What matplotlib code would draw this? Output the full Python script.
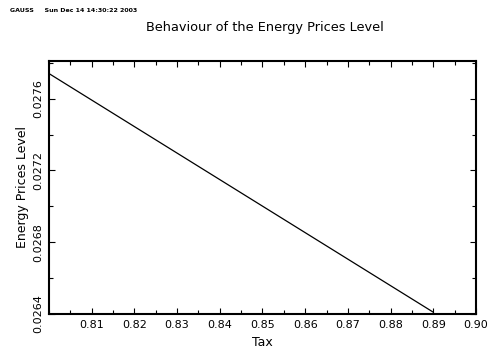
import matplotlib
matplotlib.use("Agg")
import matplotlib.pyplot as plt
from matplotlib.ticker import MultipleLocator

tax = [0.80, 0.89]
energy_prices = [0.02774, 0.02641]
xtick_vals = [0.81, 0.82, 0.83, 0.84, 0.85, 0.86, 0.87, 0.88, 0.89, 0.90]
ytick_vals = [0.0264, 0.0268, 0.0272, 0.0276]

plt.rcParams['font.family'] = ['DejaVu Sans']
fig = plt.figure(figsize=(4.88, 3.56), dpi=100)
W, H = 488, 356
left, right, top, bottom = 49, 476, 61, 314
ax = fig.add_axes([left / W, 1 - bottom / H, (right - left) / W, (bottom - top) / H])

ax.plot(tax, energy_prices, color='black', linewidth=0.9)
ax.set_xlim(0.80, 0.90)
ax.set_ylim(0.0264, 0.02781)
ax.set_xticks(xtick_vals)
ax.set_xticklabels([f"{v:.2f}" for v in xtick_vals])
ax.set_yticks(ytick_vals)
ax.set_yticklabels([f"{v:.4f}" for v in ytick_vals], rotation=90, va='center')
ax.xaxis.set_minor_locator(MultipleLocator(0.005))
ax.yaxis.set_minor_locator(MultipleLocator(0.0002))
ax.tick_params(which='both', direction='in', top=True, right=True, labelsize=8, width=0.8)
ax.tick_params(which='major', length=4, pad=4)
ax.tick_params(which='minor', length=3)
for s in ax.spines.values():
    s.set_linewidth(1.5)

ax.set_xlabel("Tax", fontsize=9, labelpad=5)
ax.set_ylabel("Energy Prices Level", fontsize=9, labelpad=3)
fig.text(265 / W, 1 - 28 / H, "Behaviour of the Energy Prices Level", ha='center', va='center', fontsize=9.3)
fig.text(10 / W, 1 - 10 / H, "GAUSS     Sun Dec 14 14:30:22 2003", ha='left', va='center', fontsize=4.5, fontweight='bold')

fig.savefig("out.png", dpi=100)
